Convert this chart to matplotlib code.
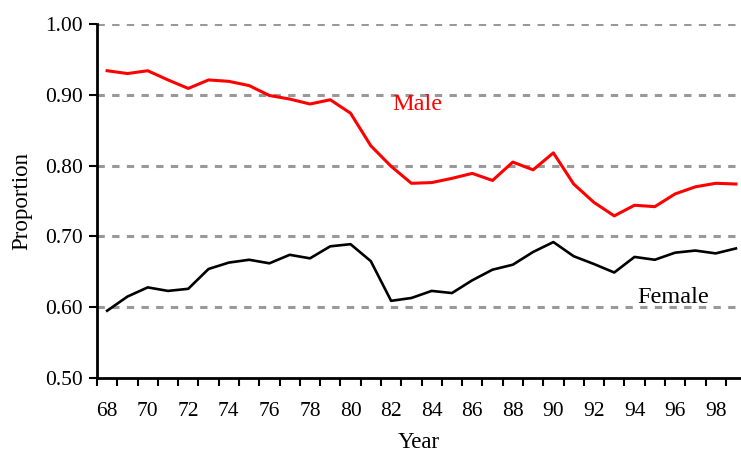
import numpy as np
import matplotlib.pyplot as plt

# Years (two-digit) and proportions by sex
years = np.arange(68, 100)
male = [0.934, 0.930, 0.934, 0.921, 0.909, 0.921, 0.919, 0.913, 0.899, 0.894,
        0.887, 0.893, 0.874, 0.828, 0.799, 0.775, 0.776, 0.782, 0.789, 0.779,
        0.805, 0.794, 0.818, 0.774, 0.748, 0.729, 0.744, 0.742, 0.760, 0.770,
        0.775, 0.774]
female = [0.595, 0.615, 0.628, 0.623, 0.626, 0.654, 0.663, 0.667, 0.662, 0.674,
          0.669, 0.686, 0.689, 0.665, 0.609, 0.613, 0.623, 0.620, 0.638, 0.653,
          0.660, 0.678, 0.692, 0.672, 0.661, 0.649, 0.671, 0.667, 0.677, 0.680,
          0.676, 0.683]
grid_vals = [0.6, 0.7, 0.8, 0.9, 1.0]
y_ticks = [0.5, 0.6, 0.7, 0.8, 0.9, 1.0]

plt.rcParams['font.family'] = ['Liberation Serif', 'DejaVu Serif']

fig = plt.figure(figsize=(7.41, 4.55), dpi=100)
ax = fig.add_axes([97 / 741, 1 - 378 / 455, 1 - 97 / 741, (378 - 24) / 455])

# dashed gray reference lines
ax.hlines(grid_vals, 67.5, 99.0, colors='#999999', linewidth=2.2,
          linestyles=(0, (2.4, 2.4)), zorder=1)

ax.plot(years, male, color='#ff0000', linewidth=2.2, zorder=3)
ax.plot(years, female, color='black', linewidth=1.9, zorder=3)

ax.text(83.3, 0.886, 'Male', color='#ff0000', fontsize=17.5, ha='center', va='center')
ax.text(95.9, 0.613, 'Female', color='black', fontsize=17.5, ha='center', va='center')

ax.set_xlim(67.5, 99.25)
ax.set_ylim(0.5, 1.0)

ax.set_xticks(np.arange(68, 100, 2))
ax.set_xticks(np.arange(67.5, 99.5, 1), minor=True)
ax.tick_params(axis='x', which='major', length=0, pad=17, labelsize=15.5)
ax.tick_params(axis='x', which='minor', length=6, width=1.5, direction='out')
ax.set_yticks(y_ticks)
ax.set_yticklabels(['%.2f' % v for v in y_ticks])
ax.tick_params(axis='y', length=6, width=1.5, direction='out', labelsize=15.5, pad=4)

for s in ['top', 'right']:
    ax.spines[s].set_visible(False)
for s in ['left', 'bottom']:
    ax.spines[s].set_linewidth(2)

ax.set_xlabel('Year', fontsize=16.5, labelpad=8)
ax.set_ylabel('Proportion', fontsize=16.5, labelpad=9)

fig.savefig('out.png', dpi=100)
